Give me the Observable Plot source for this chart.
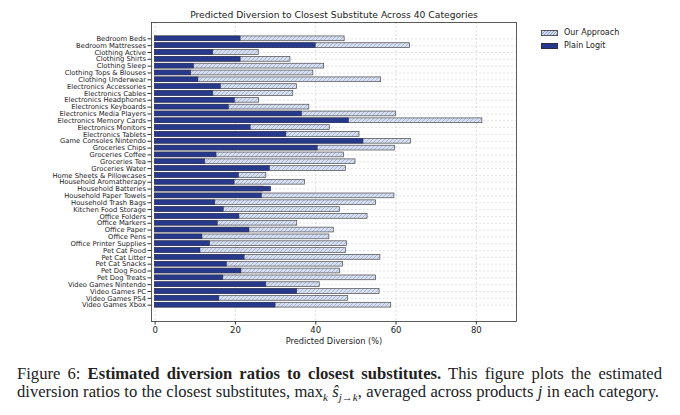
<!DOCTYPE html>
<html>
<head>
<meta charset="utf-8">
<script src="https://cdn.jsdelivr.net/npm/d3@7"></script>
<script src="https://cdn.jsdelivr.net/npm/@observablehq/plot@0.6"></script>
<style>
  html, body { margin: 0; padding: 0; background: #fff; }
  #wrap { position: relative; width: 680px; height: 415px; overflow: hidden; }
  #legend { position: absolute; left: 541px; top: 26px; font-family: "DejaVu Sans", sans-serif; font-size: 8px; color: #222; }
  .item { display: flex; align-items: center; height: 13px; }
  .sw { width: 17px; height: 6px; box-sizing: border-box; border: 0.7px solid #444; margin-right: 6px; }
  #caption { font-family: "Liberation Serif", serif; font-size: 16.6px; line-height: 18px; color: #222; margin: 6.5px 0 0 17px; width: 645px; }
  #caption .l1 { text-align: justify; text-align-last: justify; white-space: nowrap; }
  #caption .l2 { text-align: justify; text-align-last: justify; white-space: nowrap; width: 642px; }
</style>
</head>
<body>
<div id="wrap">
  <div id="chart"></div>
  <div id="legend"></div>
  <div id="caption"></div>
</div>
<script>
const categories = [
  "Bedroom Beds", "Bedroom Mattresses", "Clothing Active", "Clothing Shirts", "Clothing Sleep",
  "Clothing Tops & Blouses", "Clothing Underwear", "Electronics Accessories", "Electronics Cables",
  "Electronics Headphones", "Electronics Keyboards", "Electronics Media Players", "Electronics Memory Cards",
  "Electronics Monitors", "Electronics Tablets", "Game Consoles Nintendo", "Groceries Chips",
  "Groceries Coffee", "Groceries Tea", "Groceries Water", "Home Sheets & Pillowcases",
  "Household Aromatherapy", "Household Batteries", "Household Paper Towels", "Household Trash Bags",
  "Kitchen Food Storage", "Office Folders", "Office Markers", "Office Paper", "Office Pens",
  "Office Printer Supplies", "Pet Cat Food", "Pet Cat Litter", "Pet Cat Snacks", "Pet Dog Food",
  "Pet Dog Treats", "Video Games Nintendo", "Video Games PC", "Video Games PS4", "Video Games Xbox"
];
const ourApproach = [
  47.2, 63.5, 25.8, 33.7, 42.1, 39.4, 56.3, 35.3, 34.4, 25.9,
  38.4, 60.0, 81.5, 43.5, 50.9, 63.7, 59.7, 47.0, 49.9, 47.5,
  27.7, 37.3, 27.0, 59.6, 55.0, 46.0, 52.9, 35.4, 44.5, 43.4,
  47.8, 47.5, 56.1, 46.8, 46.0, 55.0, 41.0, 55.9, 48.0, 58.8
];
const plainLogit = [
  21.3, 40.0, 14.5, 21.3, 9.7, 9.0, 10.8, 16.4, 14.5, 19.9,
  18.4, 36.6, 48.3, 23.8, 32.7, 51.9, 40.5, 15.3, 12.5, 28.6,
  20.9, 19.8, 28.9, 26.6, 15.0, 17.1, 21.0, 15.6, 23.5, 11.8,
  13.7, 11.3, 22.3, 17.9, 21.5, 17.0, 27.7, 35.4, 16.0, 30.0
];
const xTicks = [0, 20, 40, 60, 80];
const seriesNames = ["Our Approach", "Plain Logit"];
const title = "Predicted Diversion to Closest Substitute Across 40 Categories";
const xLabel = "Predicted Diversion (%)";

const darkBlue = "#26398c";
const lightFill = "#d7dff0";
const hatchLine = "#8798c6";
const edge = "#4a4a4a";

const data = categories.map((c, i) => ({category: c, ours: ourApproach[i], logit: plainLogit[i]}));

const chart = Plot.plot({
  width: 680,
  height: 358,
  marginLeft: 151,
  marginRight: 164,
  marginTop: 22,
  marginBottom: 37,
  style: {fontFamily: "DejaVu Sans, sans-serif", fontSize: "6.8px", color: "#222", background: "#fff"},
  x: {domain: [-0.9, 90]},
  y: {domain: categories, paddingInner: 0.3, paddingOuter: 2.04, align: 0.5},
  marks: [
    Plot.gridX(xTicks, {stroke: "#c8c8c8", strokeOpacity: 1, strokeDasharray: "2,2", strokeWidth: 0.6}),
    Plot.gridY(categories, {stroke: "#d0d0d0", strokeOpacity: 1, strokeDasharray: "2,2", strokeWidth: 0.6}),
    Plot.barX(data, {x: "ours", y: "category", fill: "url(#hatch)", stroke: edge, strokeWidth: 0.7}),
    Plot.barX(data, {x: "logit", y: "category", fill: darkBlue, stroke: "#2b2b4a", strokeWidth: 0.5}),
    Plot.frame({stroke: "#333", strokeWidth: 0.8}),
    Plot.axisY({tickSize: 3.5, tickPadding: 2, fontSize: 6.8, label: null, stroke: "#333"}),
    Plot.axisX({ticks: xTicks, tickSize: 3.5, tickPadding: 2, fontSize: 8.5, label: null, stroke: "#333"}),
    Plot.text([xLabel], {frameAnchor: "bottom", lineAnchor: "top", dy: 16.5, fontSize: 8.2, fill: "#222"}),
    Plot.text([title], {frameAnchor: "top", lineAnchor: "bottom", dy: -4.5, fontSize: 9.2, fill: "#222"})
  ]
});

const ns = "http://www.w3.org/2000/svg";
const defs = document.createElementNS(ns, "defs");
defs.innerHTML = `<pattern id="hatch" patternUnits="userSpaceOnUse" width="4" height="4">
  <rect width="4" height="4" fill="${lightFill}"></rect>
  <path d="M-1,1 l2,-2 M0,4 l4,-4 M3,5 l2,-2" stroke="${hatchLine}" stroke-width="0.6"></path>
</pattern>`;
chart.insertBefore(defs, chart.firstChild);
document.getElementById("chart").appendChild(chart);

// Legend
const legend = document.getElementById("legend");
seriesNames.forEach((name, i) => {
  const item = document.createElement("div");
  item.className = "item";
  const sw = document.createElement("div");
  sw.className = "sw";
  if (i === 0) {
    sw.style.background = `repeating-linear-gradient(135deg, ${lightFill} 0 1.6px, ${hatchLine} 1.6px 2.2px)`;
    sw.style.borderColor = "#555";
  } else {
    sw.style.background = darkBlue;
    sw.style.borderColor = "#2b2b4a";
  }
  const lab = document.createElement("span");
  lab.textContent = name;
  item.appendChild(sw);
  item.appendChild(lab);
  legend.appendChild(item);
});

// Caption
document.getElementById("caption").innerHTML =
  `<div class="l1">Figure 6: <b>Estimated diversion ratios to closest substitutes.</b> This figure plots the estimated</div>` +
  `<div class="l2">diversion ratios to the closest substitutes, max<sub style="font-size:11px"><i>k</i></sub> <i>ŝ</i><sub style="font-size:11px"><i>j</i>→<i>k</i></sub>, averaged across products <i>j</i> in each category.</div>`;
</script>
</body>
</html>
